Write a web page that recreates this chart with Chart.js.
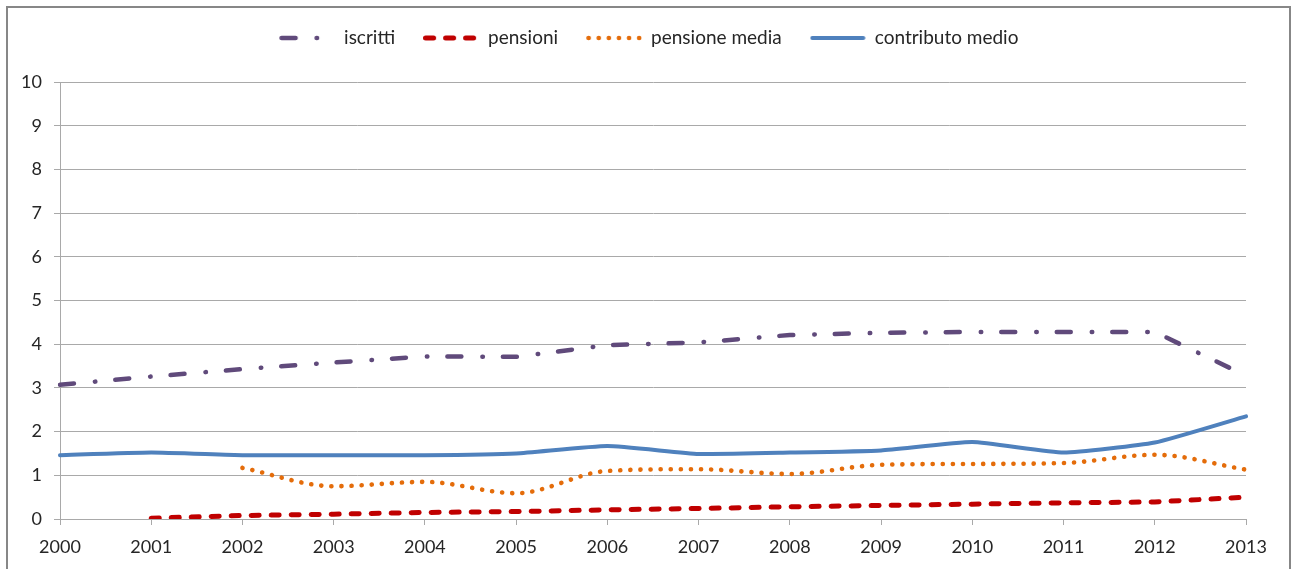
<!DOCTYPE html>
<html>
<head>
<meta charset="utf-8">
<script src="https://cdn.jsdelivr.net/npm/chart.js@4"></script>
<style>
    html, body { margin: 0; padding: 0; background: #fff; }
    #wrap { position: relative; width: 1298px; height: 569px; overflow: hidden; }
    #frame {
        position: absolute; left: 6px; top: 6px; width: 1285px; height: 600px;
        box-sizing: border-box; border: 2px solid #878787; pointer-events: none;
    }
</style>
</head>
<body>
<div id="wrap">
    <canvas id="chart"></canvas>
    <div id="frame"></div>
</div>
<script>
// --------------------------------------------------
//  DATA
// --------------------------------------------------
const years = ["2000", "2001", "2002", "2003", "2004", "2005", "2006",
               "2007", "2008", "2009", "2010", "2011", "2012", "2013"];

const iscritti       = [3.07, 3.26, 3.43, 3.58, 3.72, 3.71, 3.98, 4.04, 4.21, 4.26, 4.28, 4.28, 4.28, 3.28];
const pensioni       = [null, 0.02, 0.08, 0.11, 0.15, 0.17, 0.21, 0.24, 0.28, 0.31, 0.34, 0.37, 0.39, 0.50];
const pensioneMedia  = [null, null, 1.17, 0.75, 0.85, 0.59, 1.10, 1.14, 1.03, 1.24, 1.26, 1.28, 1.47, 1.13];
const contributo     = [1.46, 1.52, 1.46, 1.46, 1.46, 1.50, 1.67, 1.49, 1.52, 1.57, 1.76, 1.52, 1.75, 2.35];

const yTicks = [0, 1, 2, 3, 4, 5, 6, 7, 8, 9, 10];

// --------------------------------------------------
//  STYLE
// --------------------------------------------------
const FONT = "Lato";
const gridColor = "#a9a9a9";
const textColor = "#262626";

// small canvas used as the legend sample (Chart.js legend ignores dashes)
function legendSample(color, width, dash) {
    const c = document.createElement("canvas");
    c.width = 56;
    c.height = 10;
    const ctx = c.getContext("2d");
    ctx.strokeStyle = color;
    ctx.lineWidth = width;
    ctx.lineCap = "round";
    ctx.setLineDash(dash);
    ctx.beginPath();
    ctx.moveTo(2.5, 5);
    ctx.lineTo(53.5, 5);
    ctx.stroke();
    return c;
}

function series(label, data, color, width, dash, curve) {
    return Object.assign({
        label: label,
        data: data,
        borderColor: color,
        backgroundColor: color,
        borderWidth: width,
        borderDash: dash,
        borderCapStyle: "round",
        borderJoinStyle: "round",
        pointRadius: 0,
        pointHoverRadius: 0,
        pointStyle: legendSample(color, width, dash),
        fill: false
    }, curve);
}

// legend box keeps the top of the plot at y = 82
const legendHeight = {
    id: "legendHeight",
    afterInit(chart) {
        const legend = chart.legend;
        const fit = legend.fit;
        legend.fit = function () {
            fit.call(this);
            this.height = 82;
        };
    }
};

new Chart(document.getElementById("chart"), {
    type: "line",
    data: {
        labels: years,
        datasets: [
            series("iscritti", iscritti, "#604a7b", 4.5, [14, 21, 0.5, 20], { tension: 0 }),
            series("pensioni", pensioni, "#c00000", 5, [8, 12], { tension: 0 }),
            series("pensione media", pensioneMedia, "#e46c0a", 4.6, [0.1, 10], { cubicInterpolationMode: "monotone" }),
            series("contributo medio", contributo, "#4f81bd", 4, [], { tension: 0.15 })
        ]
    },
    plugins: [legendHeight],
    options: {
        responsive: true,
        maintainAspectRatio: false,
        animation: false,
        layout: { padding: 0 },
        plugins: {
            tooltip: { enabled: false },
            legend: {
                position: "top",
                labels: {
                    usePointStyle: true,
                    pointStyleWidth: 55,
                    padding: 28.5,
                    color: textColor,
                    font: { family: FONT, size: 19 }
                }
            }
        },
        scales: {
            x: {
                offset: false,
                afterFit: s => { s.height = 50; },
                grid: {
                    drawOnChartArea: false,
                    drawTicks: true,
                    tickLength: 6,
                    color: gridColor
                },
                border: { display: true, color: gridColor },
                ticks: {
                    color: textColor,
                    padding: 11,
                    maxRotation: 0,
                    autoSkip: false,
                    font: { family: FONT, size: 18 }
                }
            },
            y: {
                min: 0,
                max: 10,
                afterFit: s => { s.width = 60; },
                afterBuildTicks: s => { s.ticks = yTicks.map(v => ({ value: v })); },
                grid: { color: gridColor, tickLength: 6 },
                border: { display: true, color: gridColor },
                ticks: {
                    color: textColor,
                    padding: 12,
                    font: { family: FONT, size: 18 }
                }
            },
            // empty right box, keeps the plot clear of the frame
            yRight: {
                position: "right",
                display: true,
                afterFit: s => { s.width = 52; },
                grid: { display: false },
                border: { display: false },
                ticks: { display: false }
            }
        }
    }
});
</script>
</body>
</html>
